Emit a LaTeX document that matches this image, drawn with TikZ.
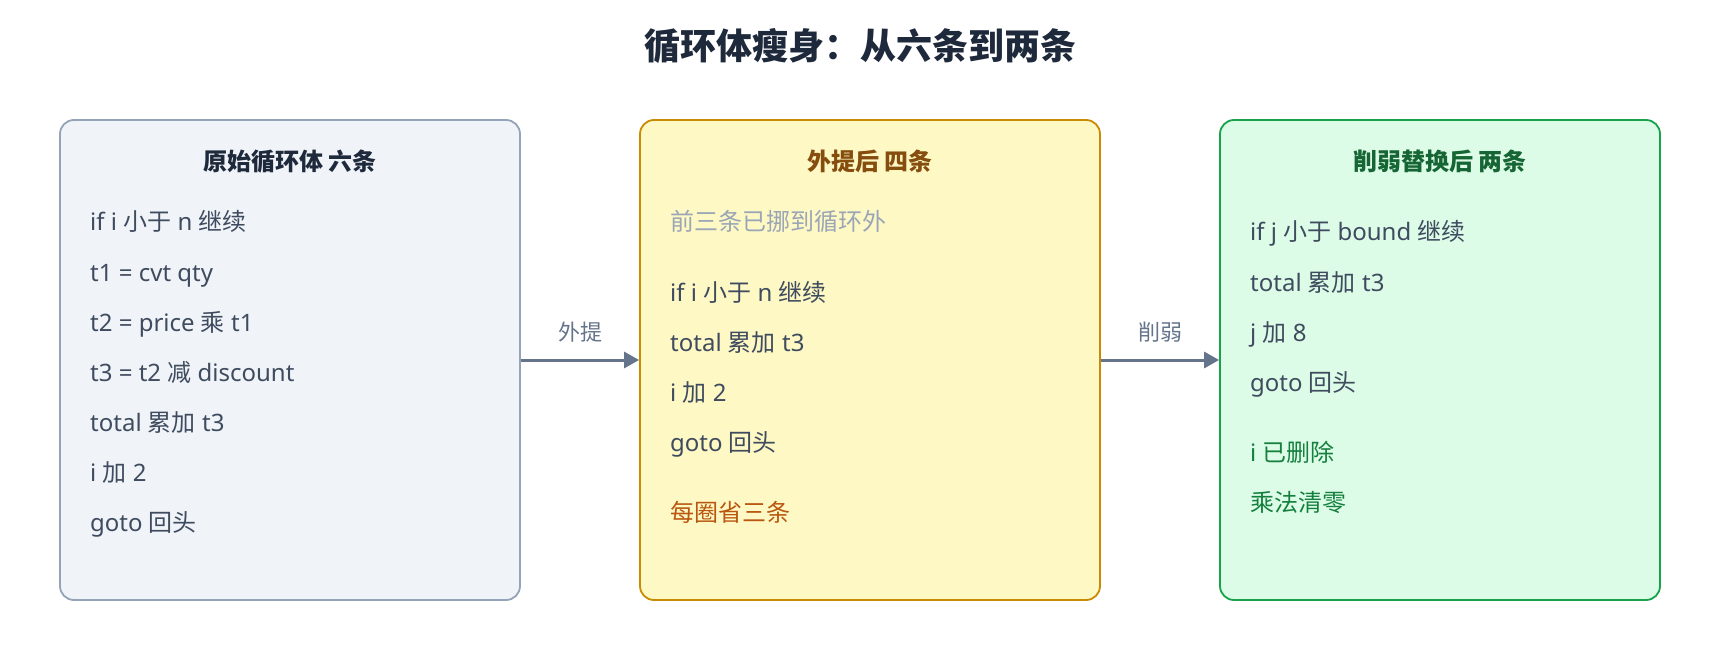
\documentclass[tikz,border=0pt]{standalone}
\usepackage{fontspec}
\setmainfont{Noto Sans}
\newfontfamily\cjk{Noto Sans CJK SC}
\usetikzlibrary{arrows.meta}
\definecolor{titlec}{HTML}{1E293B}
\definecolor{bodyc}{HTML}{3F4B5E}
\definecolor{arrowc}{HTML}{64748B}
\definecolor{slatefill}{HTML}{F0F4F9}
\definecolor{slateline}{HTML}{94A3B8}
\definecolor{yelfill}{HTML}{FEF8C4}
\definecolor{yelline}{HTML}{CA8A04}
\definecolor{yelhead}{HTML}{854D0E}
\definecolor{graynote}{HTML}{9AA5B6}
\definecolor{orangenote}{HTML}{B9560F}
\definecolor{grnfill}{HTML}{DCFCE7}
\definecolor{grnline}{HTML}{16A34A}
\definecolor{grnhead}{HTML}{166534}
\definecolor{grnnote}{HTML}{15803D}
\newcommand{\cj}[1]{{\cjk #1}}
\tikzset{
  panel/.style={draw, line width=1.8pt, rounded corners=14pt, minimum height=480pt, inner sep=0pt},
  body/.style={anchor=base west, inner sep=0pt, text=bodyc, font=\fontsize{24}{28}\selectfont},
  head/.style={anchor=base, inner sep=0pt, font=\fontsize{24}{28}\selectfont\bfseries\cjk},
  lbl/.style={anchor=base, inner sep=0pt, text=arrowc, font=\fontsize{22}{26}\selectfont\cjk},
  arr/.style={draw=arrowc, line width=3pt, -{Triangle[length=15pt,width=16pt]}}
}
\begin{document}
\begin{tikzpicture}[x=1pt,y=-1pt]
\useasboundingbox (0,0) rectangle (1720,660);
\fill[white] (0,0) rectangle (1720,660);
\node[anchor=base, inner sep=0pt, text=titlec, font=\fontsize{36}{42}\selectfont\bfseries\cjk] (title) at (860,60) {循环体瘦身：从六条到两条};

\node[panel, fill=slatefill, draw=slateline, minimum width=460pt] (b1) at (290,360) {};
\node[panel, fill=yelfill, draw=yelline, minimum width=460pt] (b2) at (870,360) {};
\node[panel, fill=grnfill, draw=grnline, minimum width=440pt] (b3) at (1440,360) {};

\node[head, text=titlec] (h1) at (290,171) {原始循环体 六条};
\node[body] (a1) at (90,231) {if i \cj{小于} n \cj{继续}};
\node[body] (a2) at (90,281) {t1 = cvt qty};
\node[body] (a3) at (90,331) {t2 = price \cj{乘} t1};
\node[body] (a4) at (90,381) {t3 = t2 \cj{减} discount};
\node[body] (a5) at (90,431) {total \cj{累加} t3};
\node[body] (a6) at (90,481) {i \cj{加} 2};
\node[body] (a7) at (90,531) {goto \cj{回头}};

\node[head, text=yelhead] (h2) at (870,171) {外提后 四条};
\node[body, text=graynote] (c0) at (670,231) {\cj{前三条已挪到循环外}};
\node[body] (c1) at (670,301) {if i \cj{小于} n \cj{继续}};
\node[body] (c2) at (670,351) {total \cj{累加} t3};
\node[body] (c3) at (670,401) {i \cj{加} 2};
\node[body] (c4) at (670,451) {goto \cj{回头}};
\node[body, text=orangenote] (c5) at (670,521) {\cj{每圈省三条}};

\node[head, text=grnhead] (h3) at (1440,171) {削弱替换后 两条};
\node[body] (d1) at (1250,241) {if j \cj{小于} bound \cj{继续}};
\node[body] (d2) at (1250,291) {total \cj{累加} t3};
\node[body] (d3) at (1250,341) {j \cj{加} 8};
\node[body] (d4) at (1250,391) {goto \cj{回头}};
\node[body, text=grnnote] (d5) at (1250,461) {i \cj{已删除}};
\node[body, text=grnnote] (d6) at (1250,511) {\cj{乘法清零}};

\draw[arr] (b1.east) -- (b2.west);
\draw[arr] (b2.east) -- (b3.west);
\node[lbl] (l1) at (580,340) {外提};
\node[lbl] (l2) at (1160,340) {削弱};
\end{tikzpicture}
\end{document}
